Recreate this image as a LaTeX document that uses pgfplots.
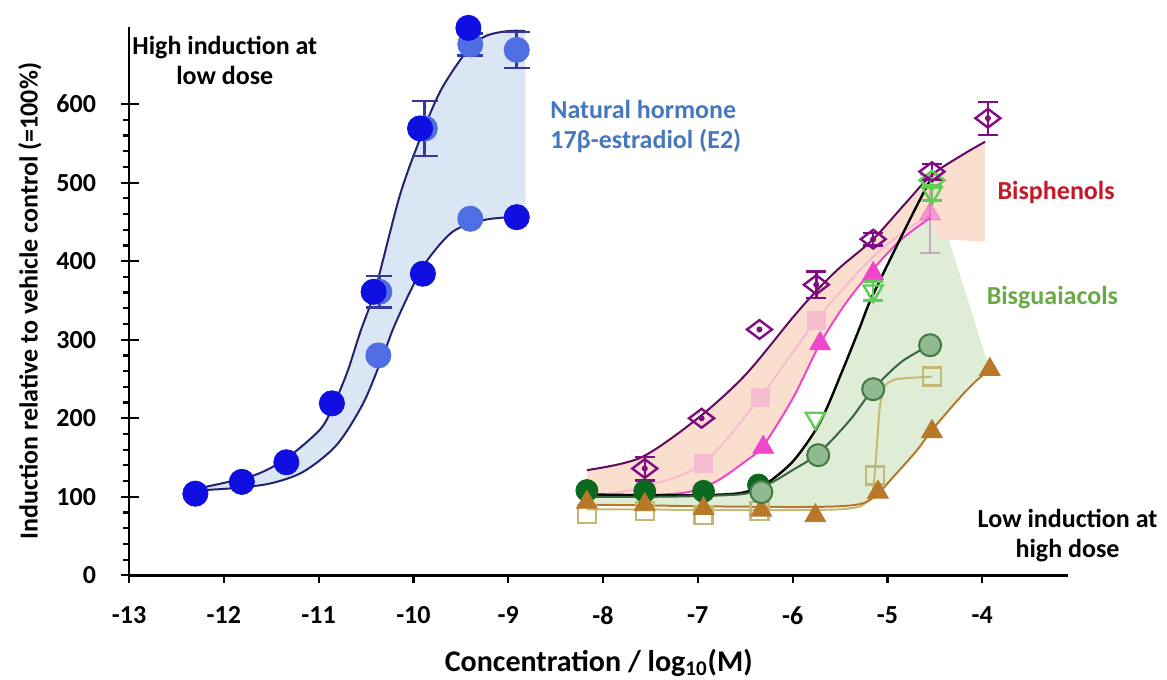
\documentclass[border=0pt]{standalone}
\usepackage{fontspec}
\setmainfont{Carlito}
\usepackage{pgfplots}
\pgfplotsset{compat=1.18}
\usepgfplotslibrary{fillbetween}

\definecolor{e2dark}{RGB}{15,15,225}
\definecolor{e2light}{RGB}{80,110,228}
\definecolor{e2line}{RGB}{35,35,110}
\definecolor{e2err}{RGB}{55,55,160}
\definecolor{e2fill}{RGB}{218,230,243}
\definecolor{peach}{RGB}{250,223,207}
\definecolor{gfill}{RGB}{223,237,214}
\definecolor{purp}{RGB}{130,10,130}
\definecolor{purpline}{RGB}{95,10,95}
\definecolor{pinksq}{RGB}{246,188,208}
\definecolor{magen}{RGB}{240,70,205}
\definecolor{bgreen}{RGB}{95,205,85}
\definecolor{dgreen}{RGB}{10,105,30}
\definecolor{mgreen}{RGB}{85,150,85}
\definecolor{mgline}{RGB}{55,100,65}
\definecolor{khaki}{RGB}{195,185,115}
\definecolor{brownt}{RGB}{185,120,40}
\definecolor{txtblue}{RGB}{70,120,190}
\definecolor{txtred}{RGB}{195,25,40}
\definecolor{txtgreen}{RGB}{105,170,70}

\begin{document}
\begin{tikzpicture}
\begin{axis}[
  set layers,
  scale only axis, width=469.5pt, height=274pt,
  xmin=-13, xmax=-3.09, ymin=0, ymax=698,
  axis lines=left, axis line style={-, line width=1.3pt, black},
  clip=false,
  xtick={-13,...,-4}, ytick={0,100,...,600},
  minor y tick num=4,
  tick style={line width=1.1pt, black},
  tick align=outside, major tick length=4pt, minor tick length=3pt,
  extra y ticks={100,200,...,600}, extra y tick labels={},
  extra y tick style={tick align=inside, major tick length=5pt},
  font=\fontsize{13}{15}\selectfont\bfseries,
  ticklabel style={font=\fontsize{13}{15}\selectfont\bfseries},
  /pgf/number format/assume math mode=true,
  xticklabel style={yshift=-8pt},
  yticklabel style={xshift=-9pt},
  xlabel={Concentration / log\textsubscript{10}(M)},
  ylabel={Induction relative to vehicle control (=100\%)},
  xlabel style={at={(axis description cs:0.5,-0.1588)}, anchor=center, font=\fontsize{15}{17}\selectfont\bfseries},
  ylabel style={at={(axis description cs:-0.1054,0.5)}, anchor=center},
]
\coordinate (BL) at (axis cs:-14.361,-132.5);
\coordinate (TR) at (axis cs:-2.0506,732.5);

% ---------- E2 curves ----------
\addplot[name path=E2up, e2line, line width=1pt, smooth] coordinates {(-12.3,110) (-11.69,127) (-11.34,149) (-10.99,185) (-10.86,212) (-10.70,258) (-10.56,310) (-10.40,365) (-10.14,485) (-9.90,565) (-9.70,620) (-9.42,670) (-9.23,687) (-9.0,693) (-8.82,693)};
\addplot[name path=E2lo, e2line, line width=1pt, smooth] coordinates {(-12.3,108) (-11.9,111) (-11.51,117) (-11.16,132) (-10.81,166) (-10.53,219) (-10.32,280) (-10.21,315) (-10.04,360) (-9.86,400) (-9.58,438) (-9.23,453) (-8.82,457)};
\addplot[e2fill, draw=none] fill between[of=E2up and E2lo];

% ---------- right curves ----------
\addplot[name path=Purp, purpline, line width=1pt, smooth] coordinates {(-8.17,134) (-7.6,150) (-7.0,200) (-6.5,255) (-6.0,328) (-5.75,362) (-5.5,392) (-5.15,428) (-4.8,475) (-4.53,510) (-4.2,536) (-3.97,552)};
\addplot[pinksq, line width=1pt, smooth] coordinates {(-8.17,100) (-7.56,113) (-6.94,143) (-6.34,227) (-5.75,325) (-5.2,400) (-4.8,440) (-4.55,458)};
\addplot[name path=Mag, magen, line width=1pt, smooth] coordinates {(-8.17,101) (-7.56,102) (-7.1,106) (-6.8,120) (-6.5,145) (-6.31,165) (-6.0,225) (-5.71,295) (-5.43,348) (-5.15,390) (-4.85,428) (-4.55,455)};
\addplot[name path=Blk, black, line width=1.2pt, smooth] coordinates {(-8.17,103) (-7.5,102) (-7.0,102) (-6.6,104) (-6.38,110) (-6.27,117) (-5.99,146) (-5.71,195) (-5.47,262) (-5.29,316) (-5.18,350) (-4.94,410) (-4.73,461) (-4.55,503)};
\addplot[mgline, line width=1pt, smooth] coordinates {(-8.17,100) (-7.5,100) (-7.0,101) (-6.5,104) (-6.24,117) (-6.0,134) (-5.73,155) (-5.4,197) (-5.15,237) (-4.85,272) (-4.55,293)};
\addplot[khaki, line width=1pt, smooth, tension=0.3] coordinates {(-8.17,84) (-7.5,84) (-7.0,83) (-6.0,83) (-5.5,84) (-5.28,88) (-5.16,102) (-5.12,150) (-5.08,215) (-5.02,242) (-4.9,250) (-4.53,253)};
\addplot[name path=Brn, brownt, line width=1pt, smooth] coordinates {(-8.17,90) (-7.5,89) (-7.0,88) (-6.0,87) (-5.5,88) (-5.25,92) (-5.1,104) (-4.94,125) (-4.69,159) (-4.53,185) (-4.23,227) (-4.06,248) (-3.92,262)};

\addplot[gfill, draw=none] fill between[of=Blk and Brn];
\addplot[peach, draw=none] fill between[of=Purp and Mag];
\addplot[fill=peach, draw=none, on layer=pre main] coordinates {(-4.55,455) (-3.97,552) (-3.97,425) (-4.45,428)} -- cycle;

% ---------- E2 markers ----------
\addplot[only marks, mark=*, mark size=6.3pt, mark options={draw=e2light, fill=e2light}] coordinates {(-10.37,280) (-9.40,454)};
\addplot[only marks, mark=*, mark size=6.3pt, mark options={draw=e2light, fill=e2light},
  error bars/.cd, y dir=both, y explicit, error bar style={e2err, line width=1.3pt},
  error mark options={e2err, line width=1.3pt, mark size=6.5pt, rotate=90}]
  coordinates {(-10.36,361) +- (0,20) (-9.88,569) +- (0,35) (-9.40,676) +- (0,14) (-8.91,669) +- (0,23)};
\addplot[only marks, mark=*, mark size=6.3pt, mark options={draw=e2dark, fill=e2dark}] coordinates {(-12.3,104) (-11.81,119) (-11.34,144) (-10.86,219) (-10.42,361) (-9.93,569) (-9.90,384) (-9.42,697) (-8.91,456)};

% ---------- right markers ----------
\addplot[only marks, mark=*, mark size=5.5pt, mark options={draw=dgreen, fill=dgreen}] coordinates {(-8.17,108) (-7.56,107) (-6.94,107) (-6.36,115)};
\addplot[only marks, mark=square, mark size=4.5pt, mark options={draw=khaki, line width=1.2pt}] coordinates {(-8.17,78) (-7.56,82) (-6.94,77) (-6.35,82) (-5.13,127) (-4.53,253)};
\addplot[only marks, mark=triangle*, mark size=6pt, mark options={draw=brownt, fill=brownt}] coordinates {(-8.17,93) (-7.56,90) (-6.94,85) (-6.33,83) (-5.76,76) (-5.1,106) (-4.53,183) (-3.92,262)};
\addplot[only marks, mark=*, mark size=5.5pt, mark options={draw=mgreen!80!black, fill=mgreen!65!white, line width=1pt}] coordinates {(-6.33,106) (-5.73,153) (-5.15,237) (-4.55,293)};
\addplot[only marks, mark=square*, mark size=4.5pt, mark options={draw=pinksq, fill=pinksq}] coordinates {(-6.94,143) (-6.34,227) (-5.75,325)};
\addplot[only marks, mark=triangle*, mark size=6pt, mark options={draw=magen, fill=magen, opacity=0.45},
  error bars/.cd, y dir=both, y explicit, error bar style={magen!50!gray, line width=1.1pt, opacity=0.5},
  error mark options={magen!50!gray, line width=1.1pt, mark size=5pt, opacity=0.5, rotate=90}]
  coordinates {(-4.55,460) +- (0,50)};
\addplot[only marks, mark=triangle*, mark size=6pt, mark options={draw=magen, fill=magen}] coordinates {(-6.31,163) (-5.71,295) (-5.15,384)};
\addplot[only marks, mark=triangle, mark size=5.5pt, mark options={draw=bgreen, line width=1.2pt, rotate=180}] coordinates {(-5.76,200)};
\addplot[only marks, mark=triangle, mark size=5.5pt, mark options={draw=bgreen, line width=1.2pt, rotate=180},
  error bars/.cd, y dir=both, y explicit, error bar style={bgreen, line width=1.2pt},
  error mark options={bgreen, line width=1.2pt, mark size=5pt, rotate=90}]
  coordinates {(-5.15,362) +- (0,12) (-4.53,487) +- (0,10)};
\addplot[only marks, mark=diamond, mark size=6.25pt, mark options={draw=bgreen, line width=1.2pt, rotate=90}] coordinates {(-4.53,503)};
\addplot[only marks, mark=*, mark size=1.3pt, mark options={draw=bgreen, fill=bgreen}] coordinates {(-4.53,503)};
\addplot[only marks, mark=diamond, mark size=6.25pt, mark options={draw=purp, line width=1.2pt, rotate=90}] coordinates {(-6.96,200) (-6.35,313)};
\addplot[only marks, mark=diamond, mark size=6.25pt, mark options={draw=purp, line width=1.2pt, rotate=90},
  error bars/.cd, y dir=both, y explicit, error bar style={purp, line width=1.2pt},
  error mark options={purp, line width=1.2pt, mark size=5pt, rotate=90}]
  coordinates {(-7.56,136) +- (0,15) (-5.75,370) +- (0,17) (-5.15,428) +- (0,8) (-4.53,514) +- (0,10) (-3.94,582) +- (0,21)};
\addplot[only marks, mark=*, mark size=1.3pt, mark options={draw=purp, fill=purp}] coordinates {(-7.56,136) (-6.96,200) (-6.35,313) (-5.75,370) (-5.15,428) (-3.94,582)};

% ---------- annotations ----------
\node[align=center, black] at (axis cs:-11.99,656) {High induction at\\low dose};
\node[align=left, anchor=west, txtblue] at (axis cs:-8.63,572) {Natural hormone\\17β-estradiol (E2)};
\node[txtred] at (axis cs:-3.22,487) {Bisphenols};
\node[txtgreen] at (axis cs:-3.26,354) {Bisguaiacols};
\node[align=center, black] at (axis cs:-3.10,51) {Low induction at\\high dose};
\end{axis}
\pgfresetboundingbox
\path[use as bounding box] (BL) rectangle (TR);
\end{tikzpicture}
\end{document}
